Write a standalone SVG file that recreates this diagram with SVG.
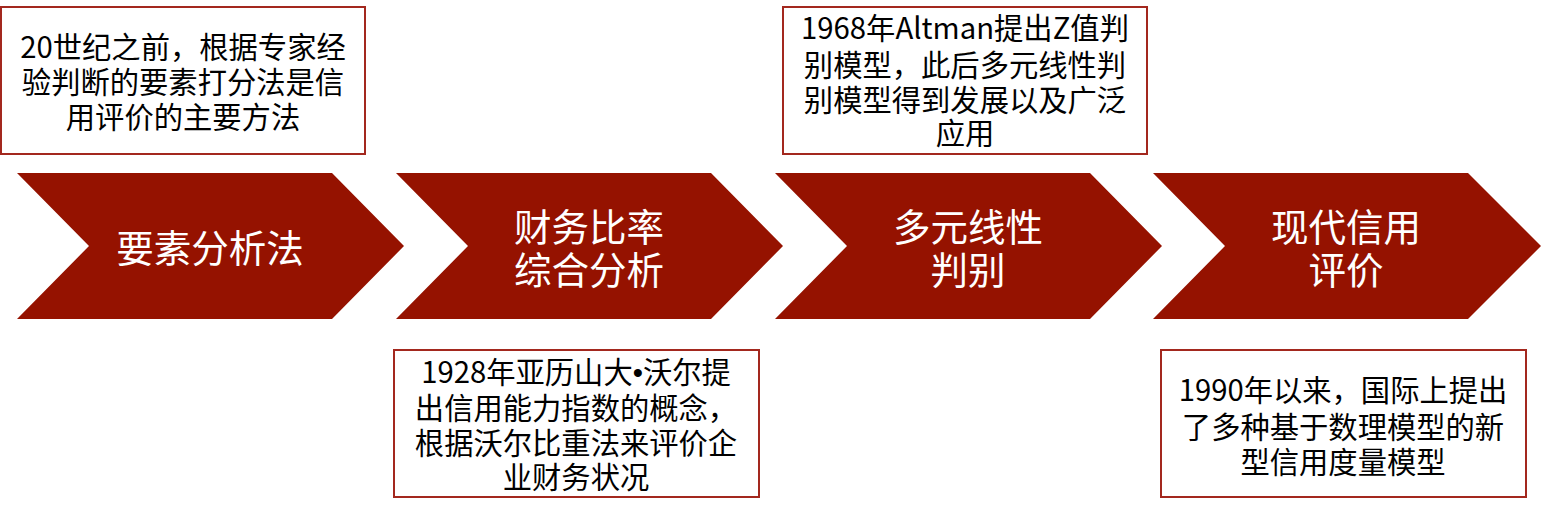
<svg xmlns="http://www.w3.org/2000/svg" width="1542" height="512" viewBox="0 0 1542 512">
<style>
.box{fill:#fff;stroke:#A3281E;stroke-width:2}
.chev{fill:#951200}
.t{font-family:"Noto Sans CJK SC","Noto Sans",sans-serif;font-size:29.3px;fill:#000;text-anchor:middle}
.c{font-family:"Noto Sans CJK SC","Noto Sans",sans-serif;font-size:37.5px;fill:#fff;text-anchor:middle}
.b{font-family:"Liberation Sans",sans-serif}
</style>
<rect width="1542" height="512" fill="#fff"/>
<g id="stage1">
<polygon class="chev" points="17,173 332,173 404,246 332,319 17,319 89,246"/>
<text class="c" x="210" y="262">要素分析法</text>
</g>
<g id="stage2">
<polygon class="chev" points="396,173 711,173 783,246 711,319 396,319 468,246"/>
<text class="c"><tspan x="589" y="241">财务比率</tspan><tspan x="589" y="284">综合分析</tspan></text>
</g>
<g id="stage3">
<polygon class="chev" points="775,173 1090,173 1162,246 1090,319 775,319 847,246"/>
<text class="c"><tspan x="968" y="241">多元线性</tspan><tspan x="968" y="284">判别</tspan></text>
</g>
<g id="stage4">
<polygon class="chev" points="1153,173 1468,173 1541,246 1468,319 1153,319 1225,246"/>
<text class="c"><tspan x="1346" y="241">现代信用</tspan><tspan x="1346" y="284">评价</tspan></text>
</g>
<g id="note1">
<rect class="box" x="1" y="7" width="364" height="147"/>
<text class="t"><tspan x="183" y="58">20世纪之前，根据专家经</tspan><tspan x="183" y="93">验判断的要素打分法是信</tspan><tspan x="183" y="128">用评价的主要方法</tspan></text>
</g>
<g id="note2">
<rect class="box" x="394" y="350" width="365" height="147"/>
<text class="t"><tspan x="576" y="383">1928年亚历山大<tspan class="b">•</tspan>沃尔提</tspan><tspan x="576" y="419">出信用能力指数的概念，</tspan><tspan x="576" y="454">根据沃尔比重法来评价企</tspan><tspan x="576" y="488">业财务状况</tspan></text>
</g>
<g id="note3">
<rect class="box" x="783" y="7" width="364" height="147"/>
<text class="t"><tspan x="965" y="39">1968年Altman提出Z值判</tspan><tspan x="965" y="76">别模型，此后多元线性判</tspan><tspan x="965" y="111">别模型得到发展以及广泛</tspan><tspan x="965" y="144">应用</tspan></text>
</g>
<g id="note4">
<rect class="box" x="1161" y="350" width="365" height="147"/>
<text class="t"><tspan x="1343" y="401">1990年以来，国际上提出</tspan><tspan x="1343" y="438">了多种基于数理模型的新</tspan><tspan x="1343" y="473">型信用度量模型</tspan></text>
</g>
<g id="connectors"></g>
</svg>
